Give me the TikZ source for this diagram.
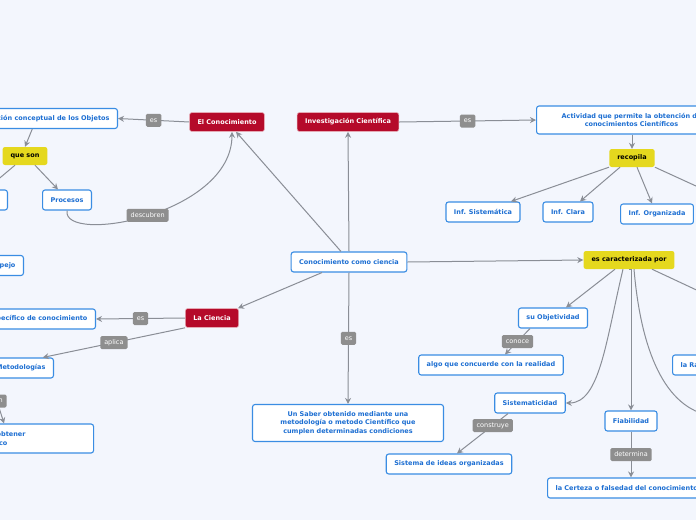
\documentclass[tikz,border=0pt]{standalone}
\usepackage{fontspec}
\setmainfont{DejaVu Sans}
\usetikzlibrary{arrows.meta}

\definecolor{mmbg}{RGB}{243,246,253}
\definecolor{mmblue}{RGB}{58,141,227}
\definecolor{mmtext}{RGB}{28,110,210}
\definecolor{mmred}{RGB}{181,10,42}
\definecolor{mmyellow}{RGB}{229,216,30}
\definecolor{mmline}{RGB}{138,142,150}
\definecolor{mmlabel}{RGB}{142,142,142}

\tikzset{
  topic/.style={draw=mmblue, fill=white, line width=1.1pt, rounded corners=2.5pt,
    text=mmtext, font=\fontsize{6.5}{8.7}\selectfont\bfseries,
    inner xsep=8pt, inner ysep=2pt, minimum height=20pt},
  redtopic/.style={draw=white!65!mmred, fill=mmred, line width=0.6pt, rounded corners=2.5pt,
    text=white, font=\fontsize{6.5}{8.7}\selectfont\bfseries,
    inner xsep=8pt, minimum height=19pt},
  yellowtopic/.style={fill=mmyellow, rounded corners=2.5pt, text=black,
    font=\fontsize{6.5}{8.7}\selectfont\bfseries, inner xsep=8pt, minimum height=18pt},
  lbl/.style={fill=mmlabel, text=white, rounded corners=1.5pt,
    font=\fontsize{6.5}{8}\selectfont, inner xsep=4pt, inner ysep=1pt, minimum height=13pt},
  conn/.style={draw=mmline, line width=1pt, -{Stealth[length=6pt,width=6pt]}},
  plain/.style={draw=mmline, line width=1pt}
}

\begin{document}
\begin{tikzpicture}[x=1pt, y=-1pt]
  \useasboundingbox (0,0) rectangle (696,520);
  \clip (0,0) rectangle (696,520);
  \fill[mmbg] (0,0) rectangle (696,520);

  % Central topic
  \node[topic] (cc) at (349,262) {Conocimiento como ciencia};

  % Upper branch
  \node[redtopic] (elcon) at (227,122) {El Conocimiento};
  \node[redtopic] (inv) at (348,122) {Investigación Científica};
  \node[topic, anchor=east] (repr) at (118,118.5) {Representación conceptual de los Objetos};
  \node[yellowtopic] (queson) at (25,156) {que son};
  \node[topic, anchor=east] (hechos) at (8,200) {Hechos};
  \node[topic] (proc) at (67,200) {Procesos};
  \node[topic, anchor=east] (espejo) at (24,265.5) {Espejo};
  \node[topic, anchor=west, text width=174pt, align=center, minimum height=28pt] (act) at (536,120)
    {Actividad que permite la obtención de\\conocimientos Científicos};
  \node[yellowtopic] (recop) at (632,158) {recopila};
  \node[topic] (infs) at (483,212) {Inf. Sistemática};
  \node[topic] (infc) at (568,212) {Inf. Clara};
  \node[topic] (info) at (657,214) {Inf. Organizada};
  \coordinate (offa) at (720,197);

  % Right branch
  \node[yellowtopic] (carac) at (629,260) {es caracterizada por};
  \node[topic] (obj) at (553,318) {su Objetividad};
  \node[topic] (algo) at (491,365) {algo que concuerde con la realidad};
  \node[topic] (sist) at (530,403) {Sistematicidad};
  \node[topic] (sisid) at (449,464) {Sistema de ideas organizadas};
  \node[topic] (fiab) at (631,421) {Fiabilidad};
  \node[topic, anchor=west] (cert) at (547,488) {la Certeza o falsedad del conocimiento};
  \node[topic, anchor=west] (racio) at (672,365) {la Racionalidad};
  \coordinate (offb) at (712,416);
  \coordinate (offc) at (720,301);

  % Lower branches
  \node[topic, text width=175pt, align=center, minimum height=37pt] (saber) at (348,423)
    {Un Saber obtenido mediante una\\metodología o metodo Científico que\\cumplen determinadas condiciones};
  \node[redtopic] (cien) at (212,318) {La Ciencia};
  \node[topic, anchor=east] (tipo) at (96,319) {Un tipo específico de conocimiento};
  \node[topic, anchor=east] (metod) at (54,368) {Metodologías};
  \node[topic, anchor=west, text width=163pt, align=left, minimum height=29pt] (obtener) at (-86,438.5)
    {Procedimiento para obtener\\conocimiento científico};

  % Connectors from the central topic
  \draw[conn] ([xshift=-8pt]cc.north) -- ([xshift=9pt]elcon.south);
  \draw[conn] (cc.north) -- (inv.south);
  \draw[conn] (cc.east) -- (carac.west);
  \draw[conn] ([xshift=-27pt]cc.south) -- ([xshift=26pt]cien.north);
  \draw[conn] (cc.south) -- node[lbl]{es} (saber.north);

  % El Conocimiento
  \draw[conn] (elcon.west) -- node[lbl]{es} (repr.east);
  \draw[conn] (repr.south) -- (queson.north);
  \draw[conn] ([xshift=10pt]queson.south) -- ([xshift=-9pt]proc.north);
  \draw[conn] ([xshift=-10pt]queson.south) -- (hechos.north);
  \draw[conn] (proc.south) .. controls (62,245) and (232,215) .. node[lbl]{descubren} ([xshift=5pt]elcon.south);

  % Investigacion Cientifica
  \draw[conn] (inv.east) -- node[lbl]{es} (act.west);
  \draw[conn] (recop.north |- act.south) -- (recop.north);
  \foreach \a/\b/\t in {-23/28/infs, -12/12/infc, 5/-5/info}
    \draw[conn] ([xshift=\a pt]recop.south) -- ([xshift=\b pt]\t.north);
  \draw[conn] (recop.south east) -- (offa);

  % es caracterizada por
  \draw[conn] ([xshift=-14pt]carac.south) -- ([xshift=13pt]obj.north);
  \draw[conn] ([xshift=-6pt]carac.south) .. controls (606,340) and (600,403) .. (sist.east);
  \draw[conn] (carac.south) -- (carac.south -| fiab.north) -- (fiab.north);
  \draw[conn] ([xshift=5pt]carac.south) .. controls (640,340) and (660,405) .. (offb);
  \draw[conn] ([xshift=23pt]carac.south) -- (offc);
  \draw[conn] ([xshift=-23pt]obj.south) -- node[lbl]{conoce} ([xshift=14pt]algo.north);
  \draw[conn] ([xshift=-22pt]sist.south) -- node[lbl, pos=0.3]{construye} ([xshift=8pt]sisid.north);
  \draw[conn] (fiab.south) -- node[lbl]{determina} (fiab.south |- cert.north);

  % La Ciencia
  \draw[conn] (cien.west) -- node[lbl]{es} (tipo.east);
  \draw[conn] (cien.south west) -- node[lbl]{aplica} ([xshift=22pt]metod.north);
  \draw[conn] ([xshift=-31pt]metod.south) -- node[lbl]{son} (obtener.north);
\end{tikzpicture}
\end{document}
